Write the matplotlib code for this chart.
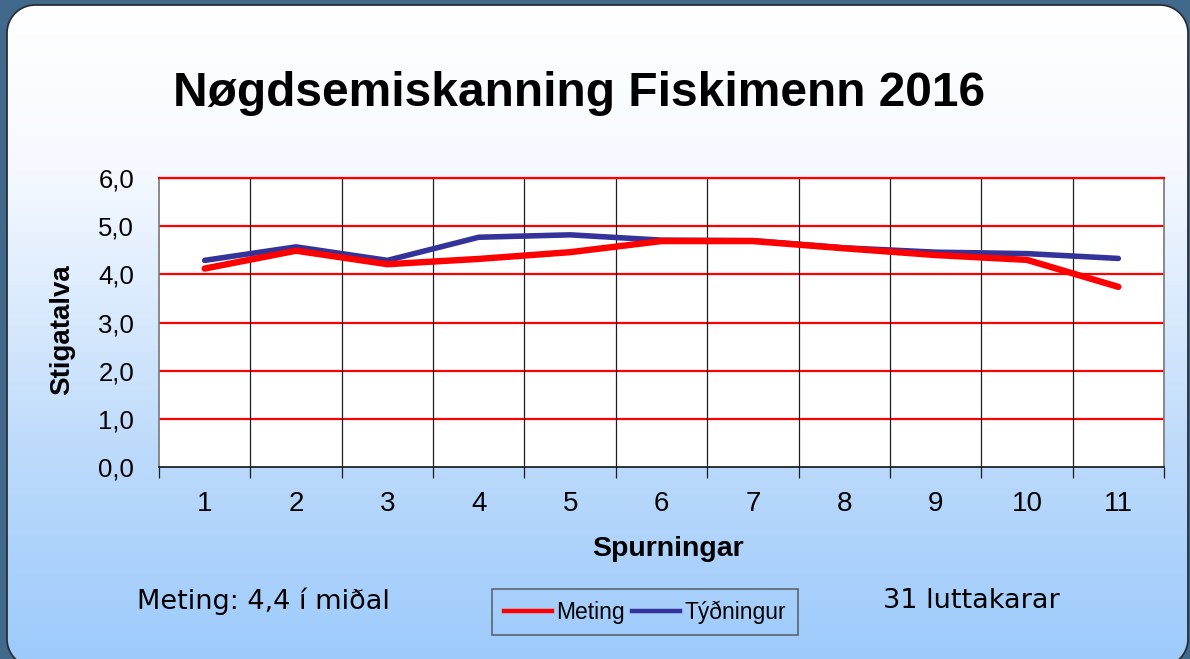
import numpy as np
import matplotlib.pyplot as plt
from matplotlib.patches import Polygon
from matplotlib.colors import LinearSegmentedColormap
from matplotlib.lines import Line2D

# data
questions = [str(i) for i in range(1, 12)]
meting = [4.12, 4.49, 4.21, 4.32, 4.46, 4.69, 4.69, 4.54, 4.40, 4.30, 3.74]
tydningur = [4.29, 4.57, 4.29, 4.77, 4.82, 4.71, 4.70, 4.55, 4.46, 4.43, 4.33]
y_ticks = [0, 1, 2, 3, 4, 5, 6]

title = "Nøgdsemiskanning Fiskimenn 2016"
note_left = "Meting: 4,4 í miðal"
note_right = "31 luttakarar"

W, H = 1190, 659
plt.rcParams["font.family"] = ["Liberation Sans", "DejaVu Sans"]


def rounded_rect(x0, y0, x1, y1, r, n=24):
    # outline of a rounded rectangle in pixel coords (y grows downwards)
    pts = []
    corners = [(x1 - r, y0 + r, -90, 0), (x1 - r, y1 - r, 0, 90),
               (x0 + r, y1 - r, 90, 180), (x0 + r, y0 + r, 180, 270)]
    for cx, cy, a0, a1 in corners:
        ang = np.radians(np.linspace(a0, a1, n))
        pts.extend(zip(cx + r * np.cos(ang), cy + r * np.sin(ang)))
    return np.array(pts)


fig = plt.figure(figsize=(W / 100, H / 100), dpi=100)
fig.patch.set_facecolor("#41698b")

# rounded slide panel with a white -> light blue gradient
bg = fig.add_axes([0, 0, 1, 1])
bg.axis("off")
panel_cmap = LinearSegmentedColormap.from_list(
    "panel", [(0.0, "#ffffff"), (0.25, "#f5f9ff"), (0.68, "#bcdafb"), (1.0, "#9ccafc")]
)
grad = np.linspace(0, 1, 256).reshape(-1, 1)
img = bg.imshow(grad, extent=(7, 1188, 667, 5), cmap=panel_cmap, aspect="auto")
bg.set_xlim(0, W)
bg.set_ylim(H, 0)
outline = rounded_rect(7, 5, 1188, 667, 28)
panel = Polygon(outline, closed=True, facecolor="none", edgecolor="none")
bg.add_patch(panel)
img.set_clip_path(panel)
bg.add_patch(Polygon(outline, closed=True, facecolor="none", edgecolor="#2a2f36", lw=1.3))

# chart area
ax = fig.add_axes([159 / W, (H - 467) / H, (1164 - 159) / W, (467 - 178) / H])
ax.set_facecolor("white")
x = np.arange(1, len(questions) + 1)
ax.set_xlim(0.5, len(questions) + 0.5)
ax.set_ylim(0, 6)

for yv in y_ticks[1:]:
    ax.axhline(yv, color="#ff0000", lw=1.6, zorder=1)
for xb in np.arange(1.5, len(questions), 1.0):
    ax.axvline(xb, color="#1e1e1e", lw=0.9, zorder=1)

ax.plot(x, tydningur, color="#333399", lw=4.0, solid_capstyle="round",
        solid_joinstyle="round", zorder=3)
ax.plot(x, meting, color="#ff0000", lw=4.6, solid_capstyle="round",
        solid_joinstyle="round", zorder=4)

for side in ("left", "right"):
    ax.spines[side].set_color("#808080")
    ax.spines[side].set_linewidth(1.3)
ax.spines["top"].set_color("#ff0000")
ax.spines["top"].set_linewidth(1.6)
ax.spines["bottom"].set_color("#111111")
ax.spines["bottom"].set_linewidth(1.2)

ax.set_xticks(np.arange(0.5, len(questions) + 1, 1.0))
ax.set_xticklabels([])
ax.tick_params(axis="x", which="major", length=8, width=0.9, color="#1e1e1e", direction="out")
ax.set_xticks(x, minor=True)
ax.set_xticklabels(questions, minor=True)
ax.tick_params(axis="x", which="minor", length=0, pad=17, labelsize=20)

ax.set_yticks(y_ticks)
ax.set_yticklabels([f"{v:.1f}".replace(".", ",") for v in y_ticks])
ax.tick_params(axis="y", length=0, pad=18, labelsize=18.5)

fig.text(668 / W, 1 - 549 / H, "Spurningar", ha="center", va="center",
         fontsize=20.5, fontweight="bold")
fig.text(62 / W, 1 - 330 / H, "Stigatalva", ha="center", va="center",
         rotation=90, fontsize=20, fontweight="bold")

fig.text(579 / W, 1 - 93 / H, title, ha="center", va="center",
         fontsize=34.5, fontweight="bold")

handles = [Line2D([], [], color="#ff0000", lw=3.2),
           Line2D([], [], color="#333399", lw=3.2)]
leg = fig.legend(handles, ["Meting", "Týðningur"], loc="center",
                 bbox_to_anchor=(645 / W, 1 - 612 / H), ncol=2, fontsize=16.5,
                 frameon=True, fancybox=False, facecolor="none", edgecolor="#4a4a4a",
                 handlelength=2.1, handletextpad=0.2, columnspacing=0.3,
                 borderpad=0.5, borderaxespad=0)
leg.get_frame().set_linewidth(1.2)

fig.text(137 / W, 1 - 601 / H, note_left, ha="left", va="center",
         fontsize=19.5, family=["DejaVu Sans"])
fig.text(883 / W, 1 - 601 / H, note_right, ha="left", va="center",
         fontsize=19.5, family=["DejaVu Sans"])

fig.savefig("out.png", dpi=100, facecolor=fig.get_facecolor())
